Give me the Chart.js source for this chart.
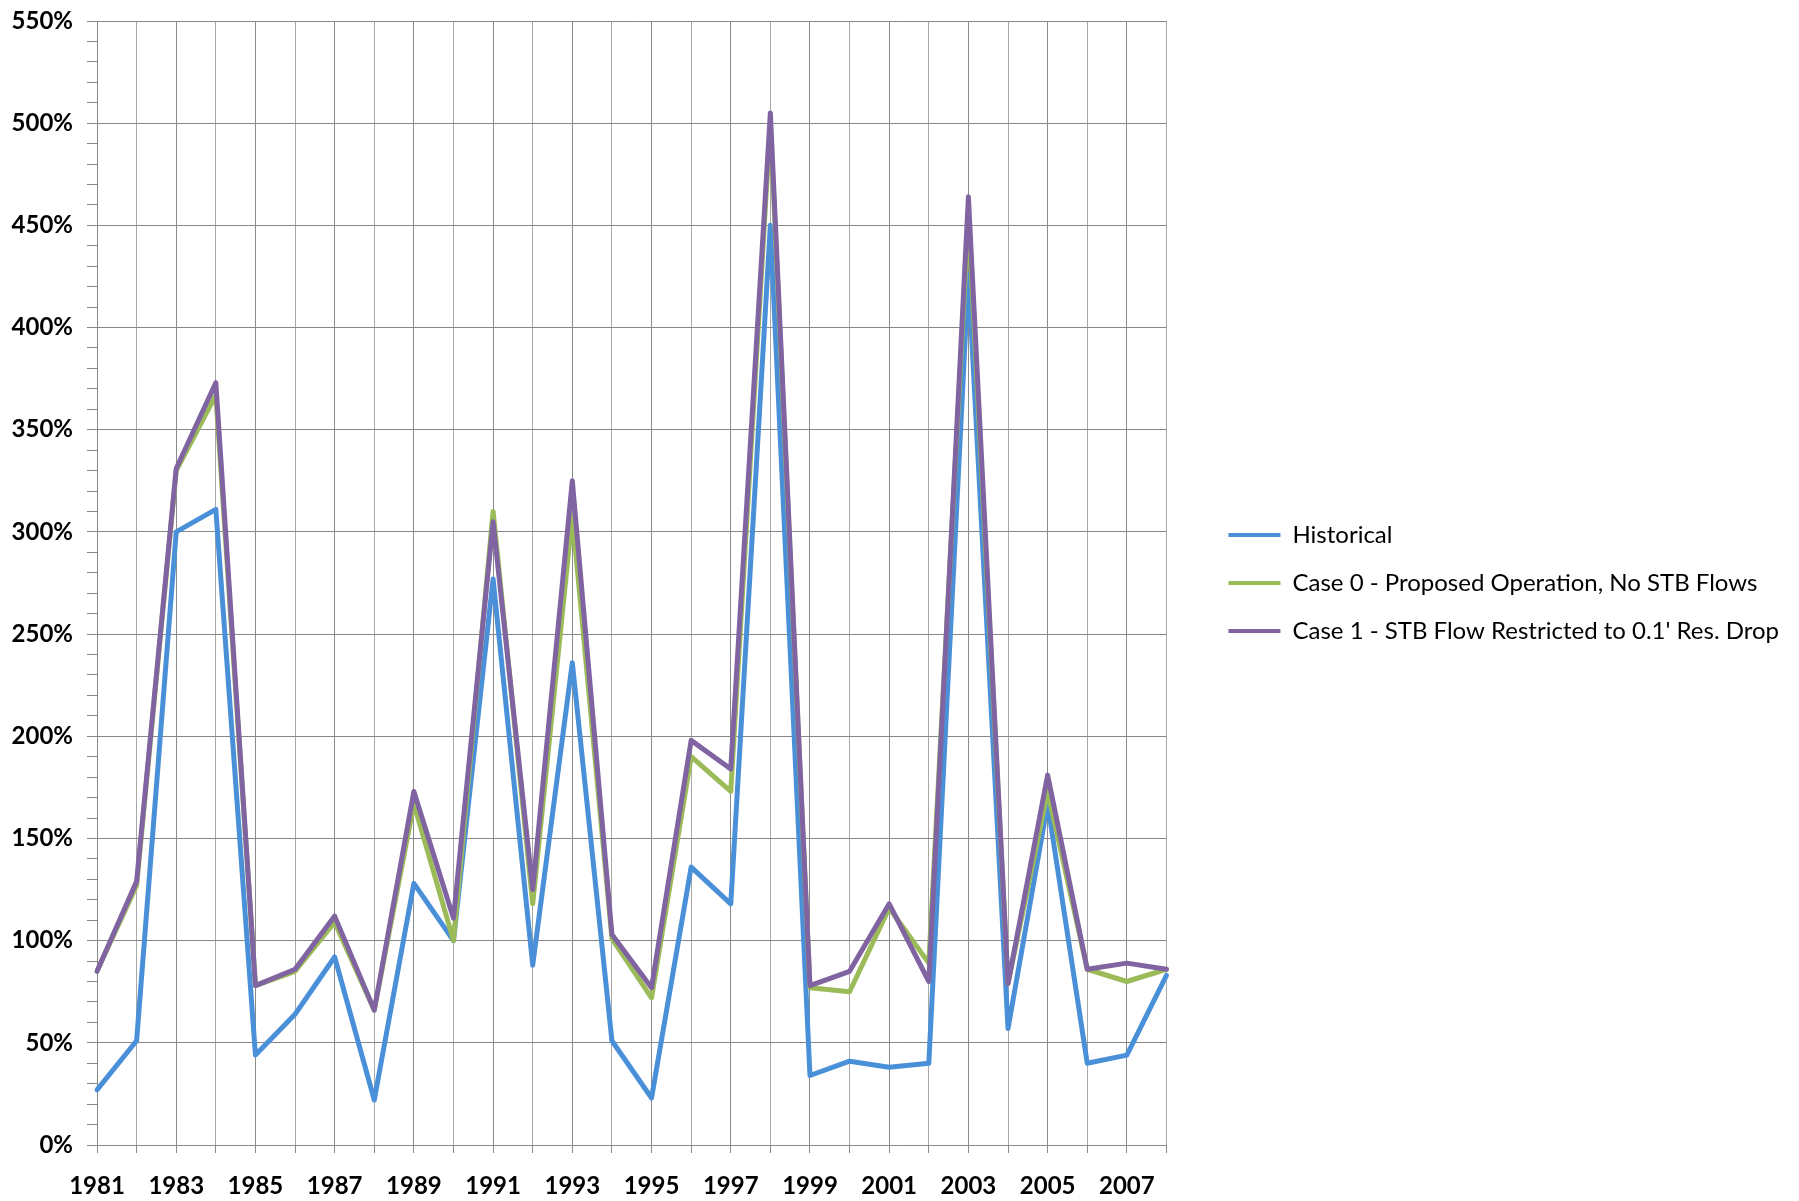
<!DOCTYPE html>
<html>
<head>
<meta charset="utf-8">
<script src="https://cdn.jsdelivr.net/npm/chart.js@4"></script>
<style>
  html, body { margin: 0; padding: 0; background: #fff; }
  #wrap { width: 1799px; height: 1201px; }
</style>
</head>
<body>
<div id="wrap"><canvas id="chart" width="1799" height="1201"></canvas></div>
<script>
// chart values
const years = [1981, 1982, 1983, 1984, 1985, 1986, 1987, 1988, 1989, 1990, 1991, 1992, 1993, 1994,
               1995, 1996, 1997, 1998, 1999, 2000, 2001, 2002, 2003, 2004, 2005, 2006, 2007, 2008];
const historical = [27, 51, 300, 311, 44, 64, 92, 22, 128, 100, 277, 88, 236, 51,
                    23, 136, 118, 450, 34, 41, 38, 40, 426, 57, 167, 40, 44, 83];
const case0 = [85, 127, 330, 367, 78, 85, 109, 66, 167, 100, 310, 118, 308, 101,
               72, 190, 173, 500, 77, 75, 116, 89, 455, 79, 173, 86, 80, 86];
const case1 = [85, 129, 331, 373, 78, 86, 112, 66, 173, 111, 305, 125, 325, 103,
               77, 198, 184, 505, 78, 85, 118, 80, 464, 79, 181, 86, 89, 86];
const seriesNames = ['Historical', 'Case 0 - Proposed Operation, No STB Flows', "Case 1 - STB Flow Restricted to 0.1' Res. Drop"];

const FONT = 'Lato, "Open Sans", sans-serif';

function lineSet(label, data, color, order) {
    return {
        label: label,
        data: data,
        borderColor: color,
        backgroundColor: color,
        borderWidth: 5,
        pointRadius: 0,
        tension: 0,
        borderJoinStyle: 'round',
        borderCapStyle: 'round',
        order: order
    };
}

new Chart(document.getElementById('chart'), {
    type: 'line',
    data: {
        labels: years,
        datasets: [
            lineSet(seriesNames[0], historical, '#4a90d9', 2),
            lineSet(seriesNames[1], case0, '#9bbb59', 1),
            lineSet(seriesNames[2], case1, '#8064a2', 0)
        ]
    },
    options: {
        responsive: false,
        animation: false,
        layout: { padding: { top: 0, right: 10, bottom: 0, left: 0 } },
        plugins: {
            tooltip: { enabled: false },
            legend: {
                position: 'right',
                fullSize: false,
                maxWidth: 800,
                labels: {
                    font: { family: FONT, size: 24 },
                    color: '#000',
                    boxWidth: 52,
                    boxHeight: 4,
                    padding: 24,
                    sort: (a, b) => a.datasetIndex - b.datasetIndex,
                    generateLabels: chart => chart.data.datasets.map((ds, i) => ({
                        text: ds.label,
                        fillStyle: ds.borderColor,
                        strokeStyle: ds.borderColor,
                        lineWidth: 0,
                        datasetIndex: i,
                        hidden: false
                    }))
                }
            }
        },
        scales: {
            x: {
                offset: false,
                grid: {
                    color: ctx => ctx.index % 2 === 0 ? '#8a8a8a' : '#a8a8a8',
                    tickColor: '#8a8a8a',
                    tickLength: 8
                },
                border: { color: '#8a8a8a' },
                ticks: {
                    autoSkip: false,
                    maxRotation: 0,
                    color: '#000',
                    font: { family: FONT, size: 24, weight: 'bold' },
                    padding: 19,
                    callback: function (value, index) {
                        const y = years[index];
                        return y % 2 === 1 ? String(y) : '';
                    }
                },
                afterFit: s => { s.height = 56; }
            },
            y: {
                min: 0,
                max: 550,
                grid: {
                    color: ctx => ctx.tick && ctx.tick.value % 50 === 0 ? '#868686' : 'rgba(0,0,0,0)',
                    tickColor: '#868686',
                    tickLength: 10
                },
                border: { color: '#868686' },
                ticks: {
                    stepSize: 10,
                    autoSkip: false,
                    color: '#000',
                    padding: 14,
                    font: { family: FONT, size: 24, weight: 'bold' },
                    callback: v => v % 50 === 0 ? v + '%' : ''
                },
                afterFit: s => {
                    s.width = 97;
                    s.paddingTop = 21;
                }
            },
            // empty axis, only used as a gap between the plot and the legend
            gap: {
                position: 'right',
                display: true,
                grid: { display: false, drawTicks: false },
                border: { display: false },
                ticks: { display: false },
                afterFit: s => { s.width = 38; }
            }
        }
    }
});
</script>
</body>
</html>
